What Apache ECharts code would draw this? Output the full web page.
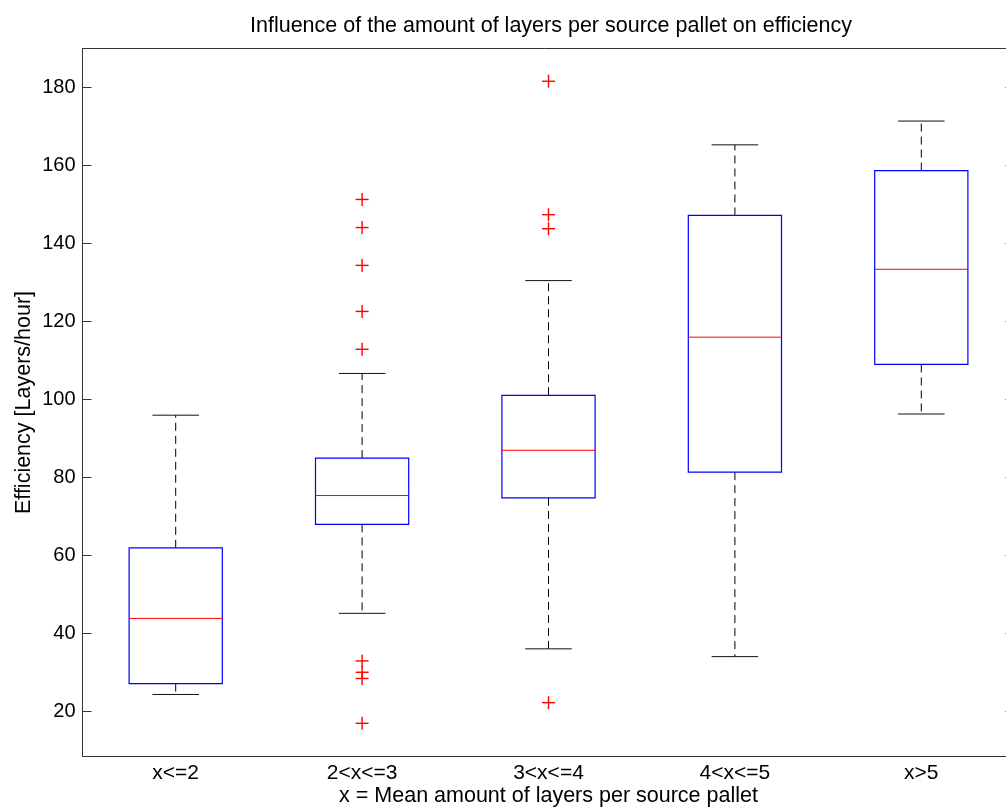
<!DOCTYPE html>
<html><head><meta charset="utf-8">
<script src="https://cdn.jsdelivr.net/npm/echarts@6/dist/echarts.min.js"></script>
<style>html,body{margin:0;padding:0;background:#fff}#c{width:1006px;height:807px}</style>
</head><body><div id="c"></div>
<script>
var categories = ['x<=2', '2<x<=3', '3<x<=4', '4<x<=5', 'x>5'];
var whiskerLow  = [24.4, 45.2, 36.1, 34.1, 96.3];
var q1          = [27.2, 68.0, 74.8, 81.4, 109.0];
var median      = [43.9, 75.4, 87.0, 116.0, 133.4];
var q3          = [62.0, 85.0, 101.1, 147.2, 158.7];
var whiskerHigh = [96.0, 106.7, 130.5, 165.3, 171.4];
var outliers2 = [151.3, 144.1, 134.4, 122.6, 112.9, 33.0, 30.1, 28.5, 17.0];
var outliers3 = [181.6, 147.4, 143.8, 22.3];
var yTicks = [20, 40, 60, 80, 100, 120, 140, 160, 180];
var yMin = 8.5, yMax = 190;

var boxData = categories.map(function (c, i) {
  return [i, whiskerLow[i], q1[i], median[i], q3[i], whiskerHigh[i]];
});
var outlierData = [];
outliers2.forEach(function (v) { outlierData.push([1, v]); });
outliers3.forEach(function (v) { outlierData.push([2, v]); });

var FONT = 'Liberation Sans, Arial, sans-serif';
var chart = echarts.init(document.getElementById('c'), null, {renderer: 'canvas'});
chart.setOption({
  animation: false,
  backgroundColor: '#fff',
  title: {
    text: 'Influence of the amount of layers per source pallet on efficiency',
    left: 546, top: 10, textAlign: 'center',
    textStyle: {fontFamily: FONT, fontSize: 21.5, fontWeight: 'normal', color: '#000'}
  },
  grid: {left: 82.5, top: 48.5, width: 932, height: 708, outerBoundsMode: 'none', containLabel: false,
    show: true, borderColor: '#333', borderWidth: 1, backgroundColor: 'transparent'},
  xAxis: {
    type: 'category', data: categories, boundaryGap: true,
    name: 'x = Mean amount of layers per source pallet', nameLocation: 'middle', nameGap: 29,
    nameMoveOverlap: false,
    nameTextStyle: {fontFamily: FONT, fontSize: 21.5, color: '#000'},
    axisLine: {lineStyle: {color: '#333', width: 1}},
    axisTick: {show: false},
    axisLabel: {fontFamily: FONT, fontSize: 21, color: '#000', margin: 6},
    splitLine: {show: false}
  },
  yAxis: [{
    type: 'value', min: yMin, max: yMax,
    name: 'Efficiency [Layers/hour]', nameLocation: 'middle', nameGap: 47,
    nameMoveOverlap: false,
    nameTextStyle: {fontFamily: FONT, fontSize: 21.5, color: '#000'},
    axisLine: {show: true, lineStyle: {color: '#333', width: 1}},
    axisTick: {show: true, inside: true, length: 9, customValues: yTicks, lineStyle: {color: '#333'}},
    axisLabel: {fontFamily: FONT, fontSize: 20, color: '#000', margin: 7, customValues: yTicks},
    splitLine: {show: false}
  }, {
    type: 'value', min: yMin, max: yMax, position: 'right',
    axisLine: {show: true, lineStyle: {color: '#333', width: 1}},
    axisTick: {show: true, inside: true, length: 9, customValues: yTicks, lineStyle: {color: '#333'}},
    axisLabel: {show: false},
    splitLine: {show: false}
  }],
  series: [{
    type: 'custom',
    data: boxData,
    clip: false,
    renderItem: function (params, api) {
      var idx = api.value(0);
      var band = api.size([1, 0])[0];
      var pLow = api.coord([idx, api.value(1)]);
      var pQ1 = api.coord([idx, api.value(2)]);
      var pMed = api.coord([idx, api.value(3)]);
      var pQ3 = api.coord([idx, api.value(4)]);
      var pHigh = api.coord([idx, api.value(5)]);
      var x = pMed[0];
      var hb = band * 0.25, hc = band * 0.125;
      var dash = {stroke: '#000', lineWidth: 1, lineDash: [8, 5]};
      var solid = {stroke: '#111', lineWidth: 1};
      return {
        type: 'group',
        children: [
          {type: 'line', shape: {x1: x, y1: pQ3[1], x2: x, y2: pHigh[1]}, style: dash},
          {type: 'line', shape: {x1: x, y1: pQ1[1], x2: x, y2: pLow[1]}, style: dash},
          {type: 'line', shape: {x1: x - hc, y1: pHigh[1], x2: x + hc, y2: pHigh[1]}, style: solid},
          {type: 'line', shape: {x1: x - hc, y1: pLow[1], x2: x + hc, y2: pLow[1]}, style: solid},
          {type: 'rect', shape: {x: x - hb, y: pQ3[1], width: 2 * hb, height: pQ1[1] - pQ3[1]},
            style: {fill: null, stroke: '#0000ff', lineWidth: 1.2}},
          {type: 'line', shape: {x1: x - hb, y1: pMed[1], x2: x + hb, y2: pMed[1]}, style: {stroke: '#ff0000', lineWidth: 1}}
        ]
      };
    }
  }, {
    type: 'custom',
    data: outlierData,
    clip: false,
    renderItem: function (params, api) {
      var p = api.coord([api.value(0), api.value(1)]);
      var s = 6.5;
      var st = {stroke: '#ff0000', lineWidth: 1.4};
      return {
        type: 'group',
        children: [
          {type: 'line', shape: {x1: p[0] - s, y1: p[1], x2: p[0] + s, y2: p[1]}, style: st},
          {type: 'line', shape: {x1: p[0], y1: p[1] - s, x2: p[0], y2: p[1] + s}, style: st}
        ]
      };
    }
  }]
});
</script></body></html>
